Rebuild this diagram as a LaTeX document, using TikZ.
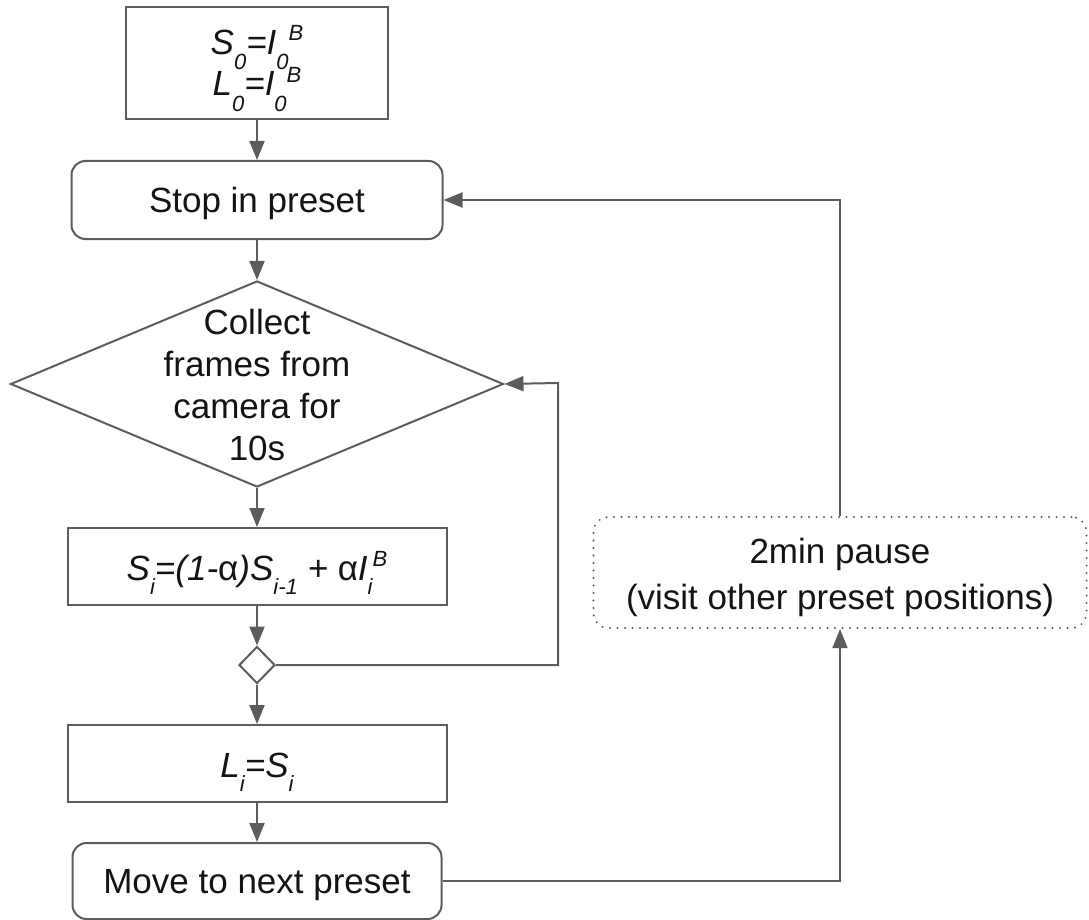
\documentclass[tikz,border=0pt]{standalone}
\usepackage{fontspec}
\setmainfont{Liberation Sans}
\usetikzlibrary{arrows.meta,shapes.geometric}
\definecolor{lc}{RGB}{92,92,92}
\definecolor{tc}{RGB}{20,20,20}
\newcommand{\lsub}[2][14pt]{\raisebox{-#1}{\fontsize{22}{22}\selectfont #2}}
\newcommand{\lsup}[2][14pt]{\raisebox{#1}{\fontsize{22}{22}\selectfont #2}}
\newcommand{\ualpha}{{\upshape α}}
\begin{document}
\begin{tikzpicture}[x=1pt,y=-1pt,
  font=\fontsize{35}{42}\selectfont, text=tc,
  sq/.style={draw=lc, line width=2pt, fill=white, inner sep=0pt},
  rnd/.style={sq, rounded corners=14pt, text height=30pt, text depth=6pt},
  dec/.style={draw=lc, line width=2pt, fill=white, diamond, inner sep=0pt},
  dots/.style={draw=lc, line width=2.2pt, line cap=round, dash pattern=on 0pt off 7.5pt},
  txt/.style={inner sep=0pt, align=center},
  mtxt/.style={inner sep=0pt, anchor=base, font=\fontsize{35}{42}\selectfont\itshape},
  flow/.style={draw=lc, line width=2pt, -{Triangle[length=19pt,width=15pt]}},
]
\useasboundingbox (0,0) rectangle (1089,920);

\node[sq, minimum width=262pt, minimum height=112pt] (init) at (257,63) {};
\node[mtxt] (initA) at (257,55) {S\lsub[15pt]{0}=I\lsub[15pt]{0}\lsup[14pt]{B}};
\node[mtxt] (initB) at (257,96) {L\lsub[16pt]{0}=I\lsub[16pt]{0}\lsup[13pt]{B}};

\node[rnd, minimum width=371pt, minimum height=78pt] (stop) at (257,200) {Stop in preset};

\node[dec, minimum width=493pt, minimum height=206pt] (collect) at (257,384) {};
\node[txt] (collectT) at (257,385) {Collect\\frames from\\camera for\\10s};

\node[sq, minimum width=379pt, minimum height=77pt] (upd) at (257,566.5) {};
\node[mtxt] (updT) at (257,580) {S\lsub{i}=(1-\ualpha)S\lsub{i-1} + \ualpha I\lsub{i}\lsup{B}};

\node[dec, minimum width=36pt, minimum height=37pt] (merge) at (257,665) {};

\node[sq, minimum width=379pt, minimum height=77pt] (lt) at (257,763.5) {};
\node[mtxt] (ltT) at (257,777) {L\lsub{i}=S\lsub{i}};

\node[rnd, minimum width=369pt, minimum height=76pt] (move) at (257,881) {Move to next preset};

\node[rounded corners=15pt, dots, minimum width=493pt, minimum height=111pt, inner sep=0pt] (pause) at (840,572.5) {};
\node[txt, font=\fontsize{35}{46}\selectfont] (pauseT) at (840,577) {2min pause\\(visit other preset positions)};

\coordinate (loopc) at (558,383);

\draw[flow] (init) -- (stop);
\draw[flow] (stop) -- (collect);
\draw[flow] (collect) -- (upd);
\draw[flow] (upd) -- (merge);
\draw[flow] (merge) -- (lt);
\draw[flow] (lt) -- (move);
\draw[flow] (merge.east) -| (loopc) -- (collect.east);
\draw[flow] (move.east) -| (pause.south);
\draw[flow] (pause.north) |- (stop.east);
\end{tikzpicture}
\end{document}
